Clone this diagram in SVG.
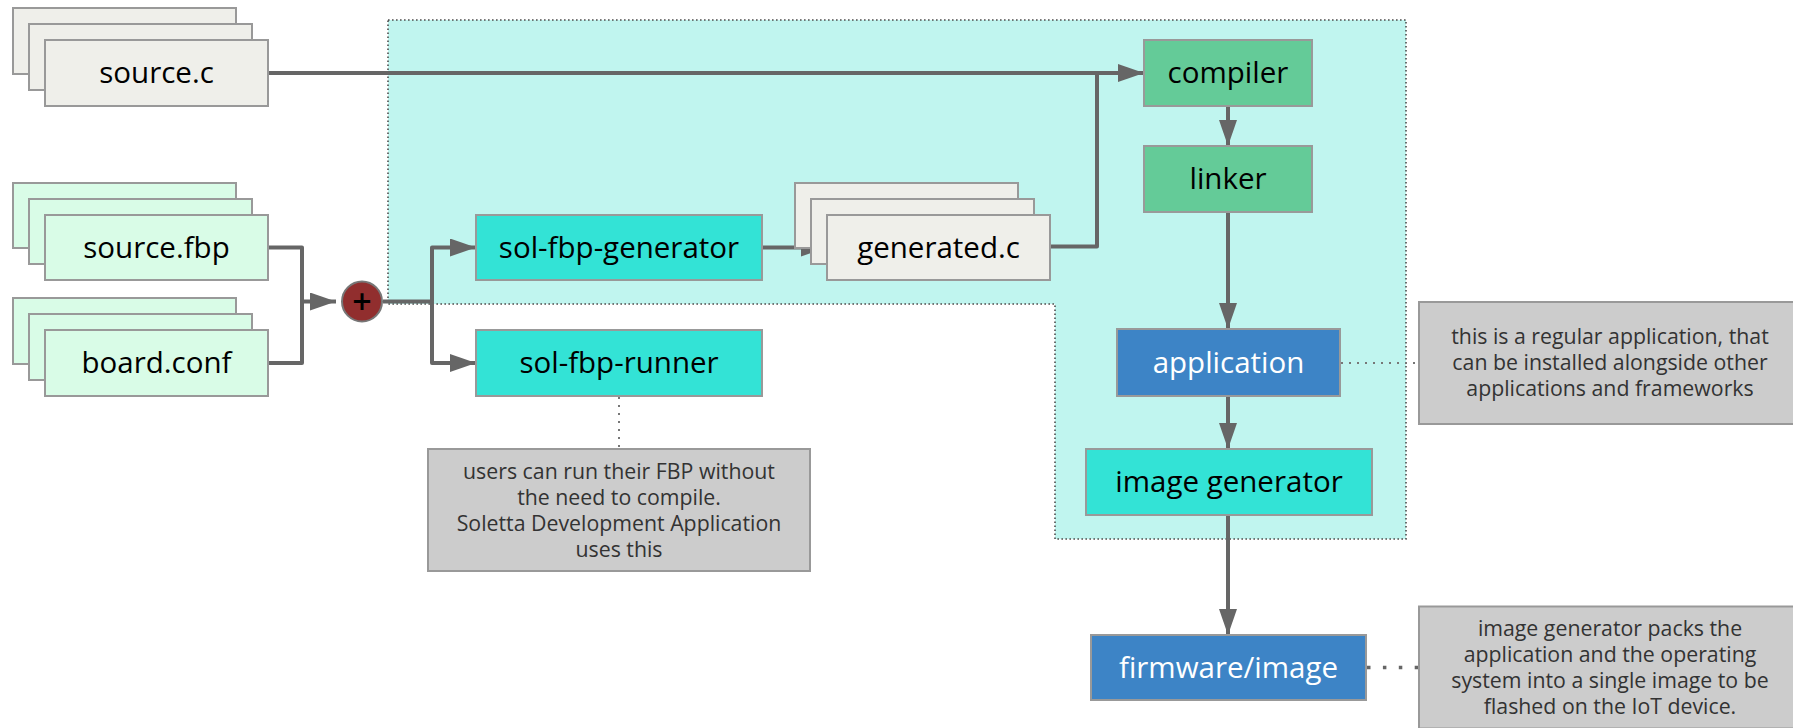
<svg xmlns="http://www.w3.org/2000/svg" width="1793" height="728" viewBox="0 0 1793 728">
  <defs>
    <marker id="arr" markerUnits="userSpaceOnUse" markerWidth="26" markerHeight="18" refX="26" refY="9" orient="auto">
      <path d="M0,0 L26,9 L0,18 z" fill="#666666"/>
    </marker>
    <style>
      .box { stroke: #999999; stroke-width: 2; }
      .file { fill: #efefea; }
      .fbp { fill: #d9fce7; }
      .cyan { fill: #33e3d6; }
      .green { fill: #64cb98; }
      .blue { fill: #3d84c6; }
      .note { fill: #cccccc; }
      .t { font-family: "Open Sans", "Liberation Sans", sans-serif; font-size: 29.5px; fill: #000000; text-anchor: middle; }
      .tw { fill: #ffffff; }
      .n { font-family: "Open Sans", "Liberation Sans", sans-serif; font-size: 21.3px; fill: #333333; text-anchor: middle; }
      .ln { fill: none; stroke: #666666; stroke-width: 4; stroke-linejoin: round; }
      .dot { fill: none; stroke: #777777; stroke-width: 2; stroke-dasharray: 2 6; }
      .dotb { fill: none; stroke: #666666; stroke-width: 3.5; stroke-dasharray: 3.5 12.4; }
    </style>
  </defs>
  <rect width="1793" height="728" fill="#ffffff"/>

  <g id="region">
    <path d="M388,20 H1406 V539 H1055 V304 H388 Z" fill="#c0f5ef" stroke="#4d4d4d" stroke-width="1.6" stroke-dasharray="1.6 2.4"/>
  </g>

  <g id="connectors">
    <path class="ln" d="M268,73 H1144" marker-end="url(#arr)"/>
    <path class="ln" d="M1050,246.5 H1097 V73"/>
    <path class="ln" d="M268,247.5 H302 V363 H268"/>
    <path class="ln" d="M302,301.5 H336" marker-end="url(#arr)"/>
    <path class="ln" d="M383,301.5 H432 V247.5 H476" marker-end="url(#arr)"/>
    <path class="ln" d="M432,301.5 V363 H476" marker-end="url(#arr)"/>
    <path class="ln" d="M762,247.5 H827" marker-end="url(#arr)"/>
    <path class="ln" d="M1228,106 V146" marker-end="url(#arr)"/>
    <path class="ln" d="M1228,212 V329" marker-end="url(#arr)"/>
    <path class="ln" d="M1228,396 V449" marker-end="url(#arr)"/>
    <path class="ln" d="M1228,515 V635" marker-end="url(#arr)"/>
    <path class="dot" d="M1341,363 H1419"/>
    <path class="dot" d="M619,397 V449"/>
    <path class="dotb" d="M1367,667.5 H1419"/>
  </g>

  <g id="source-c">
    <rect class="box file" x="13" y="8" width="223" height="66"/>
    <rect class="box file" x="29" y="24" width="223" height="66"/>
    <rect class="box file" x="45" y="40" width="223" height="66"/>
    <text class="t" x="156.5" y="83">source.c</text>
  </g>

  <g id="source-fbp">
    <rect class="box fbp" x="13" y="183" width="223" height="65"/>
    <rect class="box fbp" x="29" y="199" width="223" height="65"/>
    <rect class="box fbp" x="45" y="215" width="223" height="65"/>
    <text class="t" x="156.5" y="257.5">source.fbp</text>
  </g>

  <g id="board-conf">
    <rect class="box fbp" x="13" y="298" width="223" height="66"/>
    <rect class="box fbp" x="29" y="314" width="223" height="66"/>
    <rect class="box fbp" x="45" y="330" width="223" height="66"/>
    <text class="t" x="156.5" y="373">board.conf</text>
  </g>

  <g id="merge">
    <circle cx="362" cy="301.5" r="20" fill="#912e2e" stroke="#777777" stroke-width="2"/>
    <text x="362" y="313.5" font-family="Open Sans, Liberation Sans, sans-serif" font-size="34" font-weight="600" fill="#000000" text-anchor="middle">+</text>
  </g>

  <g id="sol-fbp-generator">
    <rect class="box cyan" x="476" y="215" width="286" height="65"/>
    <text class="t" x="619" y="257.5">sol-fbp-generator</text>
  </g>

  <g id="sol-fbp-runner">
    <rect class="box cyan" x="476" y="330" width="286" height="66"/>
    <text class="t" x="619" y="373">sol-fbp-runner</text>
  </g>

  <g id="generated-c">
    <rect class="box file" x="795" y="183" width="223" height="65"/>
    <rect class="box file" x="811" y="199" width="223" height="65"/>
    <rect class="box file" x="827" y="215" width="223" height="65"/>
    <text class="t" x="938.5" y="257.5">generated.c</text>
  </g>

  <g id="compiler">
    <rect class="box green" x="1144" y="40" width="168" height="66"/>
    <text class="t" x="1228" y="83">compiler</text>
  </g>

  <g id="linker">
    <rect class="box green" x="1144" y="146" width="168" height="66"/>
    <text class="t" x="1228" y="189">linker</text>
  </g>

  <g id="application">
    <rect class="box blue" x="1117" y="329" width="223" height="67"/>
    <text class="t tw" x="1228.5" y="372.5">application</text>
  </g>

  <g id="image-generator">
    <rect class="box cyan" x="1086" y="449" width="286" height="66"/>
    <text class="t" x="1229" y="492">image generator</text>
  </g>

  <g id="firmware-image">
    <rect class="box blue" x="1091" y="635" width="275" height="65"/>
    <text class="t tw" x="1228.5" y="677.5">firmware/image</text>
  </g>

  <g id="note-application">
    <rect class="box note" x="1419" y="302" width="382" height="122"/>
    <text class="n" x="1610" y="344">this is a regular application, that</text>
    <text class="n" x="1610" y="370">can be installed alongside other</text>
    <text class="n" x="1610" y="396">applications and frameworks</text>
  </g>

  <g id="note-runner">
    <rect class="box note" x="428" y="449" width="382" height="122"/>
    <text class="n" x="619" y="478.5">users can run their FBP without</text>
    <text class="n" x="619" y="504.5">the need to compile.</text>
    <text class="n" x="619" y="530.5">Soletta Development Application</text>
    <text class="n" x="619" y="556.5">uses this</text>
  </g>

  <g id="note-firmware">
    <rect class="box note" x="1419" y="606.5" width="382" height="122"/>
    <text class="n" x="1610" y="636">image generator packs the</text>
    <text class="n" x="1610" y="662">application and the operating</text>
    <text class="n" x="1610" y="688">system into a single image to be</text>
    <text class="n" x="1610" y="714">flashed on the IoT device.</text>
  </g>
</svg>
